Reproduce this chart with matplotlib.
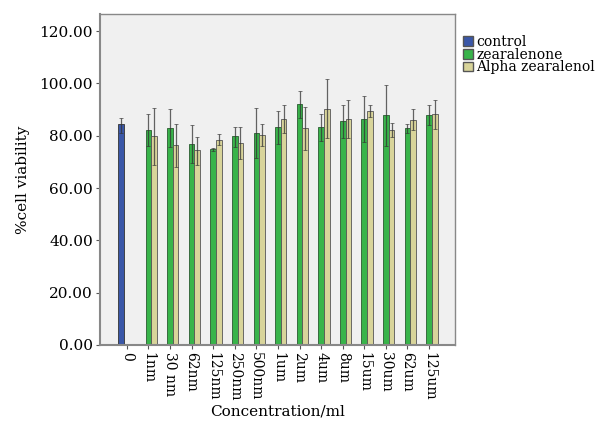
import numpy as np
import matplotlib.pyplot as plt
from matplotlib.patches import Patch

categories = ['0', '1nm', '30 nm', '62nm', '125nm', '250nm', '500nm', '1um',
              '2um', '4um', '8um', '15um', '30um', '62um', '125um']

control_mean = 84.3
control_err = (81.0, 86.9)

zea_mean = [82.2, 83.0, 76.8, 74.9, 79.7, 81.0, 83.4, 92.0, 83.3, 85.6, 86.5, 87.9, 82.9, 88.0]
zea_low = [76.0, 75.5, 69.4, 74.1, 75.8, 71.6, 77.0, 86.9, 78.1, 79.2, 77.5, 76.2, 80.9, 84.1]
zea_high = [88.2, 90.2, 84.2, 75.4, 83.2, 90.6, 89.5, 97.1, 88.4, 91.7, 95.3, 99.2, 84.4, 91.7]

alpha_mean = [79.9, 76.4, 74.4, 78.3, 77.3, 80.4, 86.4, 82.8, 90.3, 86.5, 89.5, 82.2, 86.1, 88.2]
alpha_low = [68.8, 68.0, 68.8, 76.4, 71.1, 76.0, 80.9, 74.5, 79.0, 79.3, 87.2, 79.4, 82.2, 82.5]
alpha_high = [90.4, 84.6, 79.6, 80.5, 83.4, 84.4, 91.6, 90.8, 101.6, 93.5, 91.6, 84.9, 90.1, 93.6]

c_blue = '#3A57A8'
c_green = '#38B44A'
c_tan = '#D8D49A'

plt.rcParams['font.family'] = ['DejaVu Serif']

fig = plt.figure(figsize=(6.01, 4.28), dpi=100)
ax = fig.add_axes([100 / 601, 1 - 345 / 428, 355 / 601, 331 / 428])
ax.set_facecolor('#F0F0F0')

w = 0.26
x = np.arange(len(categories))
xs = x[1:]

ax.bar(x[0] - w, control_mean, width=w, color=c_blue, edgecolor='#333333', linewidth=0.6, zorder=2)
ax.bar(xs, zea_mean, width=w, color=c_green, edgecolor='#2a5a30', linewidth=0.6, zorder=2)
ax.bar(xs + w, alpha_mean, width=w, color=c_tan, edgecolor='#555555', linewidth=0.6, zorder=2)

# error bars (95% CI style, thin, tiny caps)
err_kw = dict(fmt='none', ecolor='#333333', elinewidth=0.9, capsize=1.2, capthick=0.6, alpha=0.75, zorder=3)
ax.errorbar([x[0] - w], [control_mean],
            yerr=[[control_mean - control_err[0]], [control_err[1] - control_mean]], **err_kw)
ax.errorbar(xs, zea_mean,
            yerr=[np.array(zea_mean) - np.array(zea_low), np.array(zea_high) - np.array(zea_mean)], **err_kw)
ax.errorbar(xs + w, alpha_mean,
            yerr=[np.array(alpha_mean) - np.array(alpha_low), np.array(alpha_high) - np.array(alpha_mean)], **err_kw)

ax.set_xlim(-1.24, 15.2)
ax.set_ylim(0, 126.5)
ax.set_yticks(np.arange(0, 121, 20))
ax.set_yticklabels([f'{v:.2f}' for v in np.arange(0, 121, 20)], fontsize=11)
ax.set_xticks(x)
ax.set_xticklabels(categories, rotation=270, fontsize=10)
ax.tick_params(axis='both', direction='out', length=3, color='#555555', pad=2)

for s in ax.spines.values():
    s.set_color('#888888')
    s.set_linewidth(1.0)
ax.spines['left'].set_linewidth(1.5)
ax.spines['bottom'].set_linewidth(1.5)

ax.set_ylabel('%cell viability', fontsize=11, labelpad=7)
ax.set_xlabel('Concentration/ml', fontsize=11, labelpad=3)

handles = [Patch(facecolor=c_blue, edgecolor='#555555'),
           Patch(facecolor=c_green, edgecolor='#555555'),
           Patch(facecolor=c_tan, edgecolor='#555555')]
fig.legend(handles, ['control', 'zearalenone', 'Alpha zearalenol'],
           loc='upper left', bbox_to_anchor=(463 / 601, 1 - 35 / 428), frameon=False,
           fontsize=10, handlelength=0.7, handleheight=0.7, handletextpad=0.25,
           labelspacing=-0.1, borderpad=0, borderaxespad=0)

fig.savefig('out.png', dpi=100)
